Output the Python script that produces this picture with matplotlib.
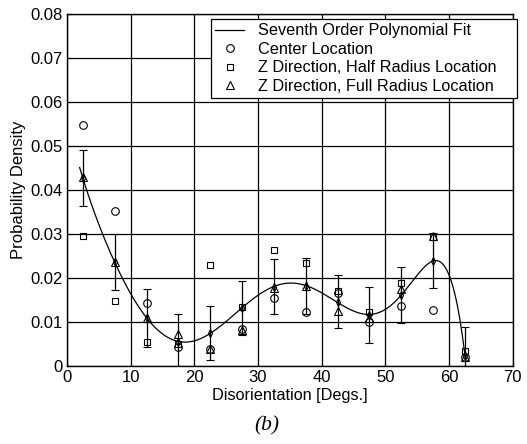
import numpy as np
import matplotlib
matplotlib.use("Agg")
import matplotlib.pyplot as plt
from matplotlib.lines import Line2D

plt.rcParams['font.family'] = ['Liberation Sans', 'DejaVu Sans']

# Bin centres (degrees)
angles = [2.5, 7.5, 12.5, 17.5, 22.5, 27.5, 32.5, 37.5, 42.5, 47.5, 52.5, 57.5, 62.5]

# Measured probability densities
center = [0.0548, 0.0352, 0.0143, 0.0043, 0.0038, 0.0084, 0.0155, 0.0122, 0.0165, 0.0100, 0.0136, 0.0127, 0.0021]
half_radius = [0.0295, 0.0148, 0.0055, 0.0050, 0.0230, 0.0134, 0.0264, 0.0234, 0.0170, 0.0123, 0.0188, 0.0294, 0.0034]
full_radius = [0.0430, 0.0236, 0.0109, 0.0072, 0.0039, 0.0082, 0.0178, 0.0182, 0.0125, 0.0110, 0.0175, 0.0296, 0.0021]

# Mean values and error bar half-lengths
mean_vals = [0.0427, 0.0236, 0.0109, 0.0055, 0.0075, 0.0132, 0.0180, 0.0182, 0.0146, 0.0116, 0.0161, 0.0239, 0.0023]
err_vals = [0.0064, 0.0064, 0.0066, 0.0063, 0.0062, 0.0062, 0.0063, 0.0063, 0.0060, 0.0063, 0.0063, 0.0063, 0.0066]

# seventh order fit through the means
coef = np.polyfit(angles, mean_vals, 7)
xfit = np.linspace(2.0, 62.5, 300)
yfit = np.polyval(coef, xfit)

fig = plt.figure(figsize=(5.27, 4.44), dpi=100)
ax = fig.add_axes([0.127, 0.176, 0.846, 0.792])

ax.plot(xfit, yfit, color='black', lw=0.9)
ax.errorbar(angles, mean_vals, yerr=err_vals, fmt='d', ms=4, mfc='none', mec='black',
            ecolor='black', elinewidth=0.9, capsize=3, capthick=0.9, mew=0.8)
ax.plot(angles, center, 'o', ms=5.5, mfc='none', mec='black', mew=0.8)
ax.plot(angles, half_radius, 's', ms=5, mfc='none', mec='black', mew=0.8)
ax.plot(angles, full_radius, '^', ms=5.5, mfc='none', mec='black', mew=0.8)

ax.set_xlim(0, 70)
ax.set_ylim(0, 0.08)
ax.set_xticks(range(0, 71, 10))
ax.set_yticks(np.arange(0, 0.081, 0.01))
ax.set_yticklabels(['0', '0.01', '0.02', '0.03', '0.04', '0.05', '0.06', '0.07', '0.08'])
ax.grid(True, color='black', lw=0.9)
ax.tick_params(direction='in', labelsize=12, length=3, pad=3)
for s in ax.spines.values():
    s.set_linewidth(1)

ax.set_xlabel("Disorientation [Degs.]", fontsize=11.7, labelpad=2)
ax.set_ylabel("Probability Density", fontsize=12, labelpad=3)

handles = [
    Line2D([], [], color='black', lw=0.9),
    Line2D([], [], marker='o', ls='none', ms=5.5, mfc='none', mec='black', mew=0.8),
    Line2D([], [], marker='s', ls='none', ms=5, mfc='none', mec='black', mew=0.8),
    Line2D([], [], marker='^', ls='none', ms=5.5, mfc='none', mec='black', mew=0.8),
]
labels = ["Seventh Order Polynomial Fit", "Center Location",
          "Z Direction, Half Radius Location", "Z Direction, Full Radius Location"]
leg = ax.legend(handles, labels, loc='upper left', bbox_to_anchor=(0.323, 0.986, 0.686, 0.0),
                mode='expand', fontsize=11.7, fancybox=False, framealpha=1, edgecolor='black',
                borderaxespad=0, handlelength=1.8, labelspacing=0.22, borderpad=0.25,
                handletextpad=0.85)
leg.get_frame().set_linewidth(0.9)

fig.text(0.506, 0.03, "(b)", fontsize=15.5, style='italic', family='Liberation Serif', ha='center')

fig.savefig("out.png", dpi=100)
